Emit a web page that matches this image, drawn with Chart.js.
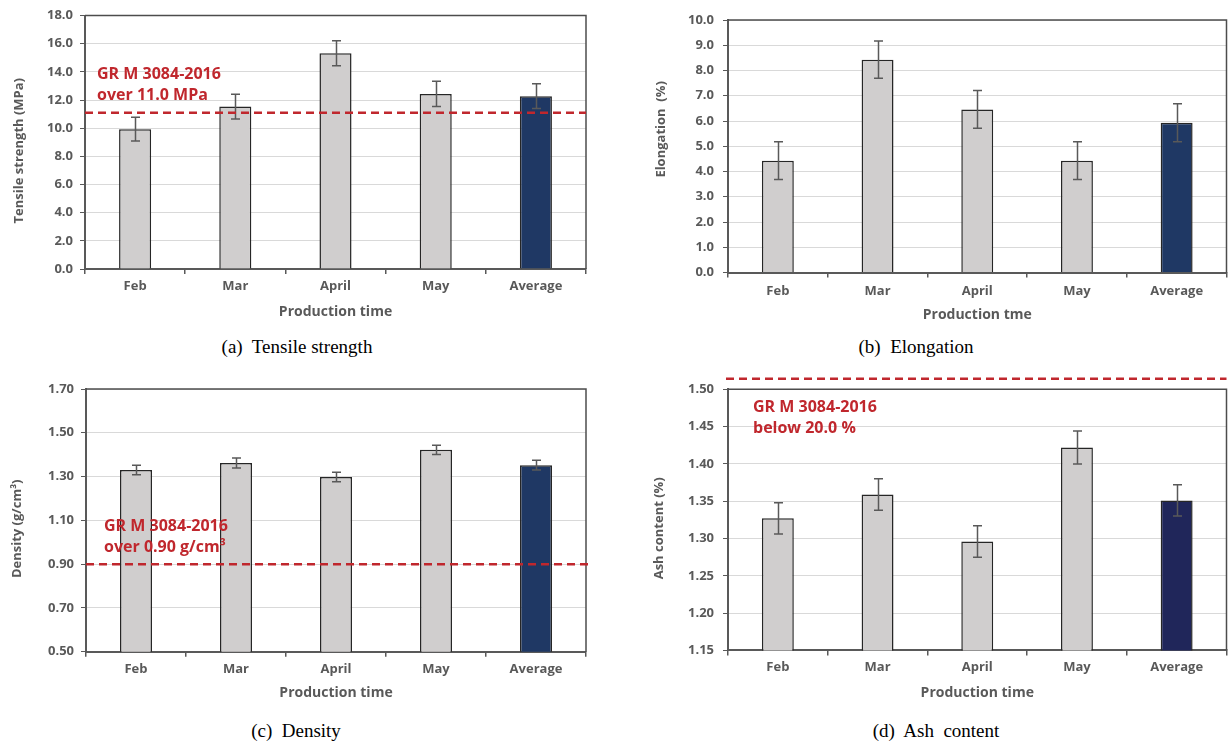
<!DOCTYPE html>
<html><head><meta charset="utf-8">
<script src="https://cdn.jsdelivr.net/npm/chart.js@4/dist/chart.umd.min.js"></script>
<style>
html,body{margin:0;padding:0;background:#fff;}
body{width:1232px;height:743px;position:relative;overflow:hidden;}
canvas{position:absolute;display:block;}
.cap{position:absolute;width:300px;font-family:"Liberation Serif","Times New Roman",serif;font-size:19px;color:#000;text-align:center;white-space:pre;line-height:20px;}
</style></head><body>
<canvas id="ca" width="610" height="330" style="left:0;top:0"></canvas>
<canvas id="cb" width="612" height="330" style="left:620px;top:0"></canvas>
<canvas id="cc" width="610" height="340" style="left:0;top:370px"></canvas>
<canvas id="cd" width="612" height="340" style="left:620px;top:370px"></canvas>
<div class="cap" style="left:147px;top:337px">(a)  Tensile strength</div>
<div class="cap" style="left:766px;top:337px">(b)  Elongation</div>
<div class="cap" style="left:146px;top:721px">(c)  Density</div>
<div class="cap" style="left:786px;top:721px">(d)  Ash  content</div>
<script>
// ---- data ----
const categories = ['Feb', 'Mar', 'April', 'May', 'Average'];

const tensileValues = [9.93, 11.53, 15.32, 12.43, 12.27];
const tensileErrors = [0.85, 0.88, 0.88, 0.90, 0.88];
const tensileTicks = [0, 2, 4, 6, 8, 10, 12, 14, 16, 18];
const tensileLimit = 11.1;
const tensileNote = ['GR M 3084-2016', 'over 11.0 MPa'];

const elongationValues = [4.43, 8.43, 6.46, 4.43, 5.93];
const elongationErrors = [0.75, 0.74, 0.75, 0.75, 0.75];
const elongationTicks = [0, 1, 2, 3, 4, 5, 6, 7, 8, 9, 10];

const densityValues = [1.330, 1.362, 1.298, 1.422, 1.352];
const densityErrors = [0.022, 0.023, 0.022, 0.021, 0.022];
const densityTicks = [0.5, 0.7, 0.9, 1.1, 1.3, 1.5, 1.7];
const densityLimit = 0.90;
const densityNote = ['GR M 3084-2016', 'over 0.90 g/cm\u00B3'];

const ashValues = [1.327, 1.359, 1.296, 1.422, 1.351];
const ashErrors = [0.021, 0.021, 0.021, 0.022, 0.021];
const ashTicks = [1.15, 1.20, 1.25, 1.30, 1.35, 1.40, 1.45, 1.50];
const ashLimitLine = 1.514;
const ashNote = ['GR M 3084-2016', 'below 20.0 %'];

// ---- styling ----
const FONT = '"Open Sans", Lato, sans-serif';
Chart.defaults.font.family = FONT;
const TXT = '#595959';
const GRAY = '#d0cece';
const RED = '#c0272d';

const extras = {
  id: 'panelExtras',
  afterDatasetsDraw(chart, args, o) {
    const {ctx, chartArea: a, scales: {y}} = chart;
    ctx.save();
    // frame top + right
    ctx.strokeStyle = '#4d4d4d'; ctx.lineWidth = 1.5;
    ctx.beginPath(); ctx.moveTo(a.left, a.top); ctx.lineTo(a.right, a.top); ctx.lineTo(a.right, a.bottom); ctx.stroke();
    // error bars
    const vals = chart.data.datasets[0].data;
    ctx.strokeStyle = '#595959'; ctx.lineWidth = 1.5;
    chart.getDatasetMeta(0).data.forEach((bar, i) => {
      const yt = y.getPixelForValue(vals[i] + o.errors[i]);
      const yb = y.getPixelForValue(vals[i] - o.errors[i]);
      const cx = Math.round(bar.x) + 0.5;
      ctx.beginPath();
      ctx.moveTo(cx, yt); ctx.lineTo(cx, yb);
      ctx.moveTo(cx - 4.5, yt); ctx.lineTo(cx + 4.5, yt);
      ctx.moveTo(cx - 4.5, yb); ctx.lineTo(cx + 4.5, yb);
      ctx.stroke();
    });
    // threshold
    if (o.limit != null) {
      const ly = y.getPixelForValue(o.limit);
      ctx.strokeStyle = RED; ctx.lineWidth = 2.5; ctx.setLineDash([8, 5]);
      ctx.beginPath(); ctx.moveTo(a.left - (o.lineLeft || 0), ly); ctx.lineTo(a.right + (o.lineRight || 0), ly); ctx.stroke();
      ctx.setLineDash([]);
    }
    // note text
    if (o.note) {
      ctx.fillStyle = RED; ctx.font = 'bold 16px ' + FONT;
      ctx.textBaseline = 'middle'; ctx.textAlign = 'left';
      const ny = y.getPixelForValue(o.noteAt);
      o.note.forEach((t, i) => ctx.fillText(t, a.left + o.noteDx, ny + i * 21));
    }
    ctx.restore();
  }
};

function makeChart(id, p) {
  const ticksArr = p.ticks;
  return new Chart(document.getElementById(id), {
    type: 'bar',
    data: {
      labels: categories,
      datasets: [{
        data: p.values,
        backgroundColor: [GRAY, GRAY, GRAY, GRAY, p.navy],
        borderColor: '#262626',
        borderWidth: 1.5,
        barPercentage: 0.32,
        categoryPercentage: 1
      }]
    },
    options: {
      responsive: false,
      animation: false,
      events: [],
      layout: {padding: {left: 0, top: p.padTop, right: p.padRight, bottom: 0}},
      plugins: {
        legend: {display: false},
        tooltip: {enabled: false},
        panelExtras: {errors: p.errors, limit: p.limit, note: p.note, noteAt: p.noteAt, noteDx: p.noteDx, lineLeft: p.lineLeft, lineRight: p.lineRight}
      },
      scales: {
        x: {
          afterFit: s => { s.height = p.xHeight; },
          grid: {display: true, drawOnChartArea: false, drawTicks: true, tickLength: 5, color: '#595959', lineWidth: 1.5, offset: true},
          border: {color: '#595959', width: 2},
          ticks: {color: TXT, font: {weight: 'bold', size: 13}, padding: p.xPad},
          title: {display: true, text: p.xTitle, color: TXT, font: {weight: 'bold', size: 14}, padding: {top: 0, bottom: p.xTitlePad}}
        },
        y: {
          min: ticksArr[0],
          max: ticksArr[ticksArr.length - 1],
          afterBuildTicks: s => { s.ticks = ticksArr.map(v => ({value: v})); },
          afterFit: s => { s.width = p.yWidth; },
          ticks: {color: TXT, font: {weight: 'bold', size: 13}, padding: p.yPad, callback: v => Number(v).toFixed(p.dec)},
          grid: {color: '#d9d9d9', lineWidth: 1, tickColor: '#595959', tickLength: 5, drawTicks: true},
          border: {color: '#595959', width: 2},
          title: {display: true, text: p.yTitle, color: TXT, font: {weight: 'bold', size: 13}, padding: {top: p.yTitlePad, bottom: 0}}
        }
      }
    },
    plugins: [extras]
  });
}

makeChart('ca', {
  values: tensileValues, errors: tensileErrors, ticks: tensileTicks, dec: 1, navy: '#1f3864',
  limit: tensileLimit, note: tensileNote, noteAt: 13.85, noteDx: 12,
  padTop: 15.5, padRight: 24, yWidth: 85, xHeight: 61, xPad: 4, xTitlePad: 10, yPad: 7, yTitlePad: 11,
  xTitle: 'Production time', yTitle: 'Tensile strength (MPa)     '
});
makeChart('cb', {
  values: elongationValues, errors: elongationErrors, ticks: elongationTicks, dec: 1, navy: '#1f3864',
  padTop: 20, padRight: 5.5, yWidth: 108, xHeight: 57.5, xPad: 5.5, xTitlePad: 7, yPad: 9, yTitlePad: 33,
  xTitle: 'Production tme', yTitle: '          Elongation  (%)'
});
makeChart('cc', {
  values: densityValues, errors: densityErrors, ticks: densityTicks, dec: 2, navy: '#1f3864',
  limit: densityLimit, note: densityNote, noteAt: 1.072, noteDx: 18, lineRight: 3,
  padTop: 19, padRight: 24, yWidth: 86, xHeight: 58.3, xPad: 4.5, xTitlePad: 8.5, yPad: 7, yTitlePad: 9.7,
  xTitle: 'Production time', yTitle: 'Density (g/cm\u00B3)     '
});
makeChart('cd', {
  values: ashValues, errors: ashErrors, ticks: ashTicks, dec: 2, navy: '#20265a',
  limit: ashLimitLine, note: ashNote, noteAt: 1.476, noteDx: 25, lineLeft: 2,
  padTop: 19.3, padRight: 5.5, yWidth: 108, xHeight: 59.6, xPad: 4.5, xTitlePad: 9, yPad: 9, yTitlePad: 31,
  xTitle: 'Production time', yTitle: 'Ash content (%)     '
});
</script>
</body></html>
